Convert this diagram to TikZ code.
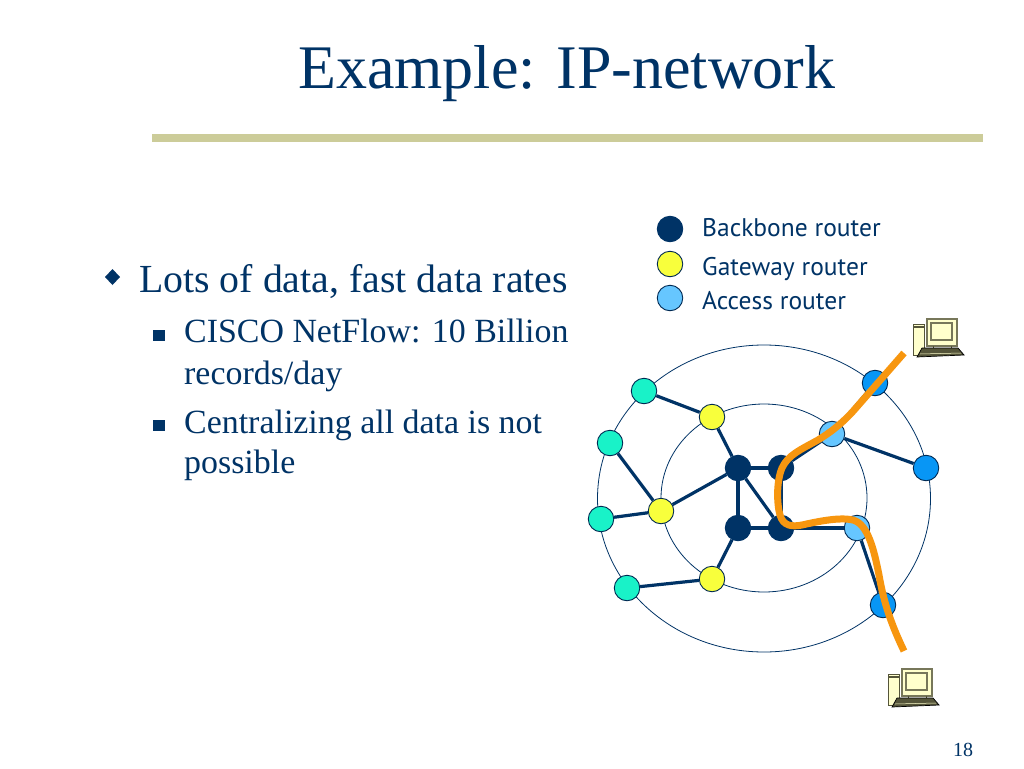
\documentclass[tikz,border=0pt]{standalone}
\usepackage{fontspec}
\setmainfont{Liberation Serif}
\newfontfamily\legendfont{PT Sans}
\definecolor{navy}{HTML}{003366}
\definecolor{barkhaki}{HTML}{CCCC99}
\definecolor{tealnode}{HTML}{19F2C8}
\definecolor{yellownode}{HTML}{F8FF3C}
\definecolor{lightnode}{HTML}{66C6FF}
\definecolor{bluenode}{HTML}{0896F5}
\definecolor{pathorange}{HTML}{F7960F}
\definecolor{cream}{HTML}{FFFFCC}
\definecolor{pcdark}{HTML}{55553A}
\definecolor{pcline}{HTML}{77775A}
\tikzset{
  x=1pt,y=-1pt,
  router/.style={circle,draw=navy!80!black,line width=0.9pt,minimum size=25.5pt,inner sep=0pt},
  backbone/.style={router,fill=navy,draw=navy},
  gateway/.style={router,fill=yellownode},
  access/.style={router,fill=lightnode},
  edgeteal/.style={router,fill=tealnode},
  edgeblue/.style={router,fill=bluenode},
  link/.style={draw=navy,line width=3.2pt},
  ring/.style={draw=navy,line width=0.8pt},
  title/.style={anchor=base west,inner sep=0pt,text=navy,font=\fontsize{62}{62}\selectfont},
  lvlone/.style={anchor=base west,inner sep=0pt,text=navy,font=\fontsize{39.8}{40}\selectfont},
  lvltwo/.style={anchor=base west,inner sep=0pt,text=navy,font=\fontsize{33.9}{34}\selectfont},
  legend/.style={anchor=base west,inner sep=0pt,text=navy,font=\legendfont\fontsize{25.5}{26}\selectfont},
  pagenum/.style={anchor=base,inner sep=0pt,text=navy,font=\fontsize{20}{20}\selectfont},
  pcpart/.style={draw=pcline,line width=1.5pt,fill=cream},
  computer/.pic={
    \fill[cream,draw=pcdark,line width=0.8pt] (1,6) rectangle (12,37);
    \draw[pcdark,line width=1.4pt] (1,9) -- (12,9);
    \draw[pcpart] (15,1) rectangle (45,28);
    \draw[pcpart] (19,5) rectangle (40,22);
    \draw[pcdark,line width=1pt] (21,28) -- (21,32) (39,28) -- (39,32);
    \fill[pcdark,draw=black,line width=0.7pt] (10,30) -- (46,30) -- (52,37) -- (5,39) -- cycle;
    \draw[cream,line width=0.5pt] (8,36) -- (49,35);
  }
}
\begin{document}
\begin{tikzpicture}
\useasboundingbox (0,0) rectangle (1024,768);
\fill[white] (0,0) rectangle (1024,768);
\node[title] (ttl) at (298,88) {Example: IP-network};
\fill[barkhaki] (152,134) rectangle (983,142);
\fill[navy] (105,277) -- (112.5,269) -- (120,277) -- (112.5,285) -- cycle;
\fill[navy] (153,330) rectangle (165,341);
\fill[navy] (153,420) rectangle (165,431);
\node[lvlone] (lineA) at (139,292) {Lots of data, fast data rates};
\node[lvltwo] (lineB) at (184,342) {CISCO NetFlow: 10 Billion};
\node[lvltwo] (lineC) at (184,384) {records/day};
\node[lvltwo] (lineD) at (184,433) {Centralizing all data is not};
\node[lvltwo] (lineE) at (184,473) {possible};
\node[backbone] (legA) at (670,229) {};
\node[gateway] (legB) at (670,264) {};
\node[access] (legC) at (670,298) {};
\node[legend] (legAt) at (702,236) {Backbone router};
\node[legend] (legBt) at (702,275) {Gateway router};
\node[legend] (legCt) at (702,309) {Access router};
\draw[ring] (764,498.5) ellipse [x radius=166.5,y radius=153.5];
\draw[ring] (764,498) ellipse [x radius=103,y radius=94];
\node[edgeteal] (t1) at (644,391) {};
\node[edgeteal] (t2) at (610,443) {};
\node[edgeteal] (t3) at (601,519) {};
\node[edgeteal] (t4) at (627,588) {};
\node[gateway] (g1) at (712,417) {};
\node[gateway] (g2) at (661,511) {};
\node[gateway] (g3) at (712,579) {};
\node[backbone] (b1) at (738,468) {};
\node[backbone] (b2) at (781,468) {};
\node[backbone] (b3) at (738,528) {};
\node[backbone] (b4) at (781,528) {};
\node[access] (a1) at (832,434) {};
\node[access] (a2) at (857,528) {};
\node[edgeblue] (e1) at (875,383) {};
\node[edgeblue] (e2) at (926,468) {};
\node[edgeblue] (e3) at (883,605) {};
\draw[link] (t1) -- (g1);
\draw[link] (g1) -- (b1);
\draw[link] (t2) -- (g2);
\draw[link] (t3) -- (g2);
\draw[link] (g2) -- (b1);
\draw[link] (t4) -- (g3);
\draw[link] (g3) -- (b3);
\draw[link] (b1) -- (b2);
\draw[link] (b1) -- (b3);
\draw[link] (b1) -- (b4);
\draw[link] (b3) -- (b4);
\draw[link] (b2) -- (b4);
\draw[link] (b4) -- (a2);
\draw[link] (b2) -- (a1);
\draw[link] (a1) -- (e1);
\draw[link] (a1) -- (e2);
\draw[link] (a2) -- (e3);
\coordinate (pathStart) at (904,353);
\coordinate (pathEnd) at (904,651);
\draw[pathorange,line width=7pt]
  (pathStart) -- (855,409) .. controls (842,424) and (828,434) .. (818,440)
  .. controls (800,450) and (788,455) .. (782,468)
  .. controls (776,482) and (777,505) .. (780,515)
  .. controls (783,526) and (792,527) .. (802,525)
  .. controls (820,521) and (840,517) .. (853,520)
  .. controls (868,524) and (874,550) .. (879,575)
  .. controls (884,605) and (893,628) .. (pathEnd);
\pic at (912,318) {computer};
\pic at (887,668) {computer};
\node[pagenum] (pg) at (963,756) {18};
\end{tikzpicture}
\end{document}
